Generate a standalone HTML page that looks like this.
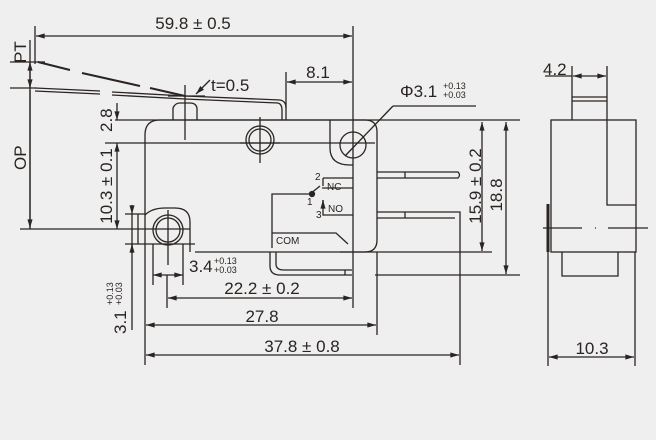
<!DOCTYPE html>
<html><head><meta charset="utf-8"><style>
html,body{margin:0;padding:0;background:#efefef;}
svg{display:block}
text{font-family:"Liberation Sans",sans-serif;fill:#2a2422}
</style></head><body>
<svg width="656" height="440" viewBox="0 0 656 440" xmlns="http://www.w3.org/2000/svg">
<rect width="656" height="440" fill="#efefef"/>
<defs>
<marker id="a" viewBox="0 0 10 6" refX="10" refY="3" markerWidth="8" markerHeight="4" orient="auto-start-reverse"><path d="M0,0L10,3L0,6z" fill="#2a2422"/></marker>
</defs>
<g stroke="#2a2422" stroke-width="1.3" fill="none">
<line x1="35" y1="26" x2="35" y2="64"/>
<line x1="353" y1="26" x2="353" y2="252"/>
<line x1="36" y1="36" x2="352" y2="36" marker-start="url(#a)" marker-end="url(#a)"/>
<line x1="10" y1="62" x2="45" y2="62"/>
<line x1="10" y1="88" x2="36" y2="88"/>
<line x1="30" y1="40" x2="30" y2="229"/>
<line x1="30" y1="62" x2="30" y2="88" marker-start="url(#a)" marker-end="url(#a)"/>
<line x1="30" y1="90" x2="30" y2="228" marker-end="url(#a)"/>
<line x1="20" y1="229" x2="190" y2="229"/>
<path d="M38,62 L70,70 M82,73 L140,86 M150,88 L185,96" stroke-width="2"/>
<path d="M35,88 L100,91 M112,92 L185,96"/>
<path d="M35,91 L100,94 M112,95 L185,99"/>
<path d="M185,96 L280,100 Q286,101 286,108 L286,120"/>
<path d="M185,99 L278,103 Q282,104 282,110 L282,120"/>
<line x1="185" y1="85" x2="185" y2="140"/>
<line x1="168" y1="96" x2="205" y2="96"/>
<line x1="210" y1="80" x2="196" y2="94" marker-end="url(#a)"/>
<line x1="286" y1="72" x2="286" y2="108"/>
<line x1="287" y1="82" x2="352" y2="82" marker-start="url(#a)" marker-end="url(#a)"/>
<path d="M173,120 L173,108 Q175,103 180,103 L190,103 Q196,103 197,108 L197,120"/>
<path d="M145,240 L145,135 Q145,120 160,120 L365,120 Q377,120 377,132 L377,240 Q377,252 365,252 L195,252"/>
<path d="M145,215 Q152,208 165,208 L175,208 Q190,208 190,222 L190,252"/>
<path d="M330,120 L330,148 Q330,165 350,165 L353,165"/>
<line x1="115" y1="120" x2="520" y2="120"/>
<line x1="105" y1="143" x2="375" y2="143"/>
<line x1="117" y1="103" x2="117" y2="120" marker-end="url(#a)"/>
<line x1="117" y1="143" x2="117" y2="229" marker-start="url(#a)" marker-end="url(#a)"/>
<circle cx="260" cy="140" r="14"/><circle cx="260" cy="140" r="11"/>
<line x1="260" y1="117" x2="260" y2="163"/><line x1="240" y1="143" x2="280" y2="143"/>
<circle cx="353" cy="145" r="13"/>
<line x1="345" y1="156" x2="393" y2="106"/><line x1="393" y1="106" x2="476" y2="106"/>
<circle cx="168" cy="230" r="15"/><circle cx="168" cy="230" r="12"/>
<line x1="168" y1="210" x2="168" y2="265"/><line x1="125" y1="244" x2="195" y2="244"/>
<line x1="125" y1="214" x2="145" y2="214"/>
<line x1="132" y1="214" x2="132" y2="330"/>
<line x1="138" y1="214" x2="138" y2="244"/>
<line x1="132" y1="205" x2="132" y2="214" marker-end="url(#a)"/>
<line x1="132" y1="253" x2="132" y2="244" marker-end="url(#a)"/>
<path d="M377,172 L458,172 Q461,175 458,178 L377,178"/>
<line x1="405" y1="172" x2="405" y2="178"/>
<path d="M377,212 L460,212 L460,365 M377,218 L455,218"/>
<line x1="405" y1="212" x2="405" y2="218"/>
<path d="M323,178 L353,178 M323,178 L323,186 M322,188 L353,188"/>
<path d="M323,200 L323,215 L353,215"/>
<line x1="323" y1="208" x2="323" y2="200" marker-end="url(#a)"/>
<path d="M272,248 L272,194 L310,194 L320,186"/>
<path d="M272,233 L336,233 L348,244"/>
<circle cx="312" cy="194" r="2.5" fill="#2a2422"/>
<path d="M270,252 L270,266 Q270,275 280,275 L352,275 M276,252 L276,264 Q276,270 284,270 L352,270"/>
<line x1="345" y1="270" x2="345" y2="275"/>
<line x1="340" y1="252" x2="492" y2="252"/>
<line x1="375" y1="275" x2="520" y2="275"/>
<line x1="482" y1="122" x2="482" y2="251" marker-start="url(#a)" marker-end="url(#a)"/>
<line x1="506" y1="122" x2="506" y2="274" marker-start="url(#a)" marker-end="url(#a)"/>
<line x1="153" y1="244" x2="153" y2="285"/><line x1="183" y1="244" x2="183" y2="285"/>
<line x1="153" y1="275" x2="183" y2="275" marker-start="url(#a)" marker-end="url(#a)"/>
<line x1="167" y1="275" x2="167" y2="308"/>
<line x1="168" y1="298" x2="352" y2="298" marker-start="url(#a)" marker-end="url(#a)"/>
<line x1="353" y1="252" x2="353" y2="308"/>
<line x1="145" y1="240" x2="145" y2="365"/>
<line x1="377" y1="252" x2="377" y2="335"/>
<line x1="146" y1="325" x2="376" y2="325" marker-start="url(#a)" marker-end="url(#a)"/>
<line x1="146" y1="355" x2="459" y2="355" marker-start="url(#a)" marker-end="url(#a)"/>
<path d="M572,66 L572,120 M607,66 L607,120"/>
<line x1="573" y1="76" x2="606" y2="76" marker-start="url(#a)" marker-end="url(#a)"/>
<line x1="545" y1="76" x2="572" y2="76"/>
<line x1="572" y1="97" x2="607" y2="97"/><line x1="572" y1="101" x2="607" y2="101"/>
<rect x="551" y="120" width="85" height="132"/>
<path d="M607,120 L607,205 L636,205"/>
<path d="M548,204 L548,252" stroke-width="3"/>
<path d="M562,252 L562,276 L618,276 L618,252"/>
<line x1="543" y1="228" x2="582" y2="228"/><line x1="595" y1="228" x2="596" y2="228"/><line x1="608" y1="228" x2="648" y2="228"/>
<line x1="548" y1="252" x2="548" y2="366"/><line x1="635" y1="252" x2="635" y2="366"/>
<line x1="549" y1="357" x2="634" y2="357" marker-start="url(#a)" marker-end="url(#a)"/>
</g>
<g font-size="17">
<text x="193" y="29" text-anchor="middle">59.8 ± 0.5</text>
<text x="211" y="91">t=0.5</text>
<text x="318" y="78" text-anchor="middle">8.1</text>
<text x="400" y="97">Φ3.1</text>
<text x="443" y="89" font-size="9">+0.13</text>
<text x="443" y="98" font-size="9">+0.03</text>
<text x="189" y="272">3.4</text>
<text x="214" y="264" font-size="9">+0.13</text>
<text x="214" y="273" font-size="9">+0.03</text>
<text x="262" y="294" text-anchor="middle">22.2 ± 0.2</text>
<text x="262" y="322" text-anchor="middle">27.8</text>
<text x="302" y="352" text-anchor="middle">37.8 ± 0.8</text>
<text x="592" y="354" text-anchor="middle">10.3</text>
<text x="543" y="75">4.2</text>
<text transform="translate(26,63) rotate(-90)">PT</text>
<text transform="translate(26,170) rotate(-90)">OP</text>
<text transform="translate(112,132) rotate(-90)">2.8</text>
<text transform="translate(112,186) rotate(-90)" text-anchor="middle">10.3 ± 0.1</text>
<text transform="translate(481,186) rotate(-90)" text-anchor="middle">15.9 ± 0.2</text>
<text transform="translate(502,195) rotate(-90)" text-anchor="middle">18.8</text>
<text transform="translate(126,334) rotate(-90)">3.1</text>
<text transform="translate(113,305) rotate(-90)" font-size="9">+0.13</text>
<text transform="translate(122,305) rotate(-90)" font-size="9">+0.03</text>
</g>
<g font-size="10">
<text x="327" y="190">NC</text>
<text x="328" y="212">NO</text>
<text x="276" y="244">COM</text>
<text x="315" y="180">2</text>
<text x="307" y="205">1</text>
<text x="316" y="218">3</text>
</g>
</svg>
</body></html>
